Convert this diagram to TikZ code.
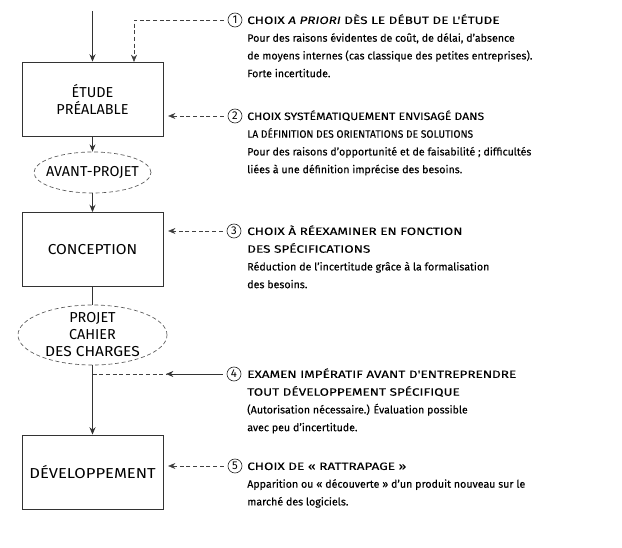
\documentclass[tikz,border=0pt]{standalone}
\usepackage{fontspec}
\setmainfont{Fira Sans}[FakeBold=0.1]
\newfontfamily\capsfont{Fira Sans}[FakeStretch=1.27, FakeBold=0.05]
\newfontfamily\capsmid{Fira Sans}[FakeStretch=1.14, FakeBold=0.05]
\newfontfamily\capsnarrow{Fira Sans}[FakeStretch=0.96, FakeBold=0.05]
\newfontfamily\boxfont{Fira Sans}
\newfontfamily\boxwide{Fira Sans}[FakeStretch=1.08]
\newfontfamily\boxwider{Fira Sans}[FakeStretch=1.15]
\usetikzlibrary{shapes.geometric,arrows.meta}
\begin{document}
\begin{tikzpicture}[x=0.75pt,y=-0.75pt,
  boxnode/.style={draw=black!80, line width=0.6pt, minimum width=105.75pt, minimum height=55.5pt, inner sep=0pt, align=center, font=\boxfont\fontsize{10.8}{12.75}\selectfont, text=black},
  ellnode/.style={ellipse, draw=black!65, dash pattern=on 3pt off 2pt, line width=0.5pt, inner sep=0pt},
  elltext/.style={align=center, inner sep=0pt, font=\boxfont\fontsize{10.8}{12.75}\selectfont, text=black},
  numnode/.style={circle, draw=black!85, line width=0.5pt, minimum size=10.5pt, inner sep=0pt, font=\boxfont\fontsize{8.5}{9}\selectfont},
  notenode/.style={anchor=base west, inner sep=0pt, font=\fontsize{8}{13.3}\selectfont, text=black},
  flow/.style={draw=black!80, line width=0.6pt, -{Stealth[length=5.5pt,width=4.5pt]}},
  flowline/.style={draw=black!80, line width=0.6pt},
  dashline/.style={draw=black!75, line width=0.5pt, dash pattern=on 3pt off 2pt},
  dasharrow/.style={dashline, -{Stealth[length=5.5pt,width=4.5pt]}}
]
\path[use as bounding box] (0,0) rectangle (622,548);

% flow column
\coordinate (start) at (92.5,11);
\node[boxnode] (box1) at (92.5,99) {ÉTUDE\\PRÉALABLE};
\node[ellnode, minimum width=87.75pt, minimum height=30.75pt] (ell1) at (92.5,172.5) {};
\node[elltext] (ell1t) at (ell1.center) {AVANT-PROJET};
\node[boxnode] (box2) at (92.5,249.5) {{\boxwide CONCEPTION}};
\node[ellnode, minimum width=111.75pt, minimum height=45pt] (ell2) at (92.5,335) {};
\node[elltext] (ell2t) at (ell2.center) {PROJET\\CAHIER\\{\boxwide DES CHARGES}};
\node[boxnode] (box3) at (92.5,472) {{\boxwider DÉVELOPPEMENT}};

\draw[flow] (start) -- (box1.north);
\draw[flow] (box1.south) -- (ell1.north);
\draw[flow] (ell1.south) -- (box2.north);
\draw[flowline] (box2.south) -- (ell2.north);
\draw[flow] (ell2.south) -- (box3.north);

% numbered notes
\node[numnode] (n1) at (235,20) {1};
\node[notenode] (t1) at (247,24) {\begin{tabular}[t]{@{}l@{}}{\capsfont CHOIX \textit{A PRIORI} DÈS LE DÉBUT DE L'ÉTUDE}\\Pour des raisons évidentes de coût, de délai, d'absence\\de moyens internes (cas classique des petites entreprises).\\Forte incertitude.\end{tabular}};

\node[numnode] (n2) at (235,116) {2};
\node[notenode] (t2) at (247,120) {\begin{tabular}[t]{@{}l@{}}{\capsmid CHOIX SYSTÉMATIQUEMENT ENVISAGÉ DANS}\\{\capsnarrow LA DÉFINITION DES ORIENTATIONS DE SOLUTIONS}\\Pour des raisons d'opportunité et de faisabilité ; difficultés\\liées à une définition imprécise des besoins.\end{tabular}};

\node[numnode] (n3) at (234,231) {3};
\node[notenode] (t3) at (247,235) {\begin{tabular}[t]{@{}l@{}}{\capsfont CHOIX À RÉEXAMINER EN FONCTION}\\{\capsfont DES SPÉCIFICATIONS}\\Réduction de l'incertitude grâce à la formalisation\\des besoins.\end{tabular}};

\node[numnode] (n4) at (234,374) {4};
\node[notenode] (t4) at (247,378) {\begin{tabular}[t]{@{}l@{}}{\capsfont EXAMEN IMPÉRATIF AVANT D'ENTREPRENDRE}\\{\capsfont TOUT DÉVELOPPEMENT SPÉCIFIQUE}\\(Autorisation nécessaire.) Évaluation possible\\avec peu d'incertitude.\end{tabular}};

\node[numnode] (n5) at (235,466) {5};
\node[notenode] (t5) at (247,470) {\begin{tabular}[t]{@{}l@{}}{\capsfont CHOIX DE « RATTRAPAGE »}\\Apparition ou « découverte » d'un produit nouveau sur le\\marché des logiciels.\end{tabular}};

% connectors from notes
\coordinate (e1) at (134,62);
\draw[dasharrow, shorten <=3pt] (n1.west) -| (e1);
\draw[dasharrow, shorten <=3pt, shorten >=3.5pt] (n2.west) -- (box1.east |- n2);
\draw[dasharrow, shorten <=3pt, shorten >=3.5pt] (n3.west) -- (box2.east |- n3);
\coordinate (a4) at (166,374);
\draw[flow, shorten <=3pt] (n4.west) -- (a4);
\draw[dashline] (ell2.south |- a4) -- (a4);
\draw[dasharrow, shorten <=3pt, shorten >=3.5pt] (n5.west) -- (box3.east |- n5);
\end{tikzpicture}
\end{document}
